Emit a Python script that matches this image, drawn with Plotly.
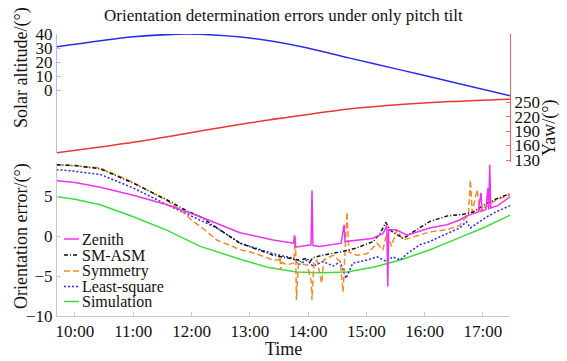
import pandas as pd
import plotly.graph_objects as go

# ---------------- data ----------------
DAY = "2000-01-01 "

# Top panel: solar altitude (left axis) and yaw (right axis)
sun_time = ["09:41", "10:26", "11:00", "11:45", "12:09", "13:00", "13:52",
            "14:43", "15:35", "16:26", "17:28"]
sun_alt = [31.0, 35.4, 38.2, 40.1, 40.0, 37.3, 31.3, 23.0, 14.6, 6.3, -3.9]

yaw_time = ["09:41", "10:26", "11:17", "12:09", "13:00", "13:52", "14:53",
            "15:35", "16:26", "17:28"]
yaw = [145, 157, 172, 190, 207, 222, 238, 245, 251, 256]

# Bottom panel: orientation errors of each method
zen_time = ["09:41", "10:00", "10:26", "11:00", "11:35", "12:09", "12:50", "13:24",
            "13:45", "13:46", "13:47", "14:03", "14:04", "14:05", "14:12", "14:34",
            "14:37", "14:38", "15:06", "15:17", "15:20", "15:21", "15:22", "15:23",
            "15:31", "15:42", "16:05", "16:23", "16:36", "16:43", "16:50", "16:55",
            "16:58", "16:59", "17:03", "17:05", "17:06", "17:07", "17:08", "17:15",
            "17:28"]
zenith = [6.9, 6.7, 6.1, 5.1, 3.9, 2.4, 0.4, -0.5,
          -0.9, 0.1, -1.4, -1.1, 5.7, -1.2, -1.3, -0.9,
          1.4, -0.7, -0.3, 0.3, 1.0, 1.4, -6.3, 0.8,
          0.75, 0.1, 1.0, 1.4, 2.0, 2.5, 2.8, 3.0,
          5.4, 3.1, 3.3, 6.0, 3.3, 8.9, 3.5, 3.8,
          4.9]

sm_time = ["09:41", "10:00", "10:26", "11:00", "11:35", "11:51", "12:09", "12:26",
           "12:43", "12:50", "13:24", "13:41", "13:50", "13:52", "13:55", "13:59",
           "14:02", "14:05", "14:15", "14:33", "14:50", "15:07", "15:14", "15:20",
           "15:24", "15:27", "15:38", "15:48", "16:05", "16:23", "16:39", "16:50",
           "17:04", "17:15", "17:28"]
sm_asm = [8.9, 8.8, 8.4, 6.6, 4.5, 3.4, 2.4, 1.0,
          -0.3, -0.9, -2.4, -2.8, -3.0, -3.3, -2.9, -2.8,
          -3.2, -2.7, -2.4, -2.0, -1.5, -0.7, 0.3, 1.7,
          0.8, 0.5, -0.3, 0.5, 1.8, 2.5, 2.7, 3.0,
          4.1, 4.7, 5.3]

sym_time = ["09:41", "10:00", "10:26", "11:00", "11:35", "11:51", "12:00", "12:09",
            "12:26", "12:50", "13:06", "13:24", "13:30", "13:31", "13:32", "13:33",
            "13:38", "13:45", "13:47", "13:48", "13:50", "13:59", "14:03", "14:04",
            "14:06", "14:09", "14:14", "14:16", "14:26", "14:33", "14:36", "14:40",
            "14:42", "14:50", "15:01", "15:11", "15:17", "15:21", "15:26", "15:31",
            "15:38", "15:48", "16:05", "16:23", "16:36", "16:40", "16:45", "16:47",
            "16:49", "16:54", "16:57", "17:00", "17:04", "17:10", "17:15", "17:28"]
symmetry = [8.9, 8.8, 8.5, 6.7, 4.4, 3.0, 2.0, 1.2,
            -0.5, -1.7, -2.2, -3.0, -3.0, -2.6, -4.25, -3.3,
            -3.6, -3.4, -0.1, -8.0, -3.5, -3.6, -5.5, -8.0,
            -3.2, -3.0, -5.9, -3.0, -2.4, -3.2, -7.0, 3.0,
            -2.0, -2.4, -2.2, -0.9, -1.75, 0.4, -1.3, 0.75,
            -0.5, -0.1, 0.5, 0.8, 1.3, 2.0, 2.5, 7.0,
            3.0, 5.8, 3.0, 3.5, 3.7, 4.2, 4.6, 5.1]

ls_time = ["09:41", "10:00", "10:26", "11:00", "11:35", "12:09", "12:26", "12:50",
           "13:24", "13:45", "13:50", "13:59", "14:05", "14:15", "14:26", "14:33",
           "14:39", "14:46", "15:01", "15:11", "15:21", "15:27", "15:35", "15:42",
           "15:55", "16:05", "16:13", "16:23", "16:36", "16:43", "16:47", "16:54",
           "17:04", "17:15", "17:28"]
least_square = [8.3, 8.1, 7.7, 6.0, 3.9, 2.0, 1.0, -0.9,
                -2.2, -2.8, -3.6, -3.0, -3.8, -3.2, -3.75, -3.2,
                -5.3, -3.4, -3.0, -2.6, -3.2, -2.6, -3.0, -2.2,
                -1.1, -0.7, -0.3, 0.3, 1.0, 1.8, 1.0, 1.6,
                2.4, 3.1, 3.8]

sim_time = ["09:41", "10:00", "10:26", "11:00", "11:35", "12:09", "12:50", "13:18",
            "13:48", "14:15", "14:40", "15:07", "15:35", "16:05", "16:36", "17:00",
            "17:28"]
simulation = [4.9, 4.6, 3.9, 2.4, 0.7, -1.3, -2.9, -3.9,
              -4.5, -4.6, -4.5, -3.9, -3.0, -1.75, -0.2, 1.0,
              2.6]

hour_ticks = ["10:00", "11:00", "12:00", "13:00", "14:00", "15:00", "16:00", "17:00"]
err_ticks = [-10, -5, 0, 5]
alt_ticks = [0, 10, 20, 30, 40]
yaw_ticks = [130, 160, 190, 220, 250]


def t(vals):
    return pd.to_datetime([DAY + v for v in vals])


# ---------------- layout geometry (pixels) ----------------
W, H = 567, 361
L, R, T, B = 57, 57, 34, 45
PW, PH = W - L - R, H - T - B


def px(x):
    return (x - L) / PW


def py(y):
    return (H - B - y) / PH


FONT = "Liberation Serif"
INK = "#111111"
GREY = "#c8c8c8"

fig = go.Figure()

fig.add_trace(go.Scatter(x=t(sun_time), y=sun_alt, xaxis="x2", yaxis="y2",
                         mode="lines", line=dict(color="#2b2bea", width=1.5, shape="spline"),
                         showlegend=False))
fig.add_trace(go.Scatter(x=t(yaw_time), y=yaw, xaxis="x2", yaxis="y3",
                         mode="lines", line=dict(color="#ee3535", width=1.5, shape="spline"),
                         showlegend=False))

series = [
    ("Zenith", zen_time, zenith, "#ee33ee", "solid"),
    ("SM-ASM", sm_time, sm_asm, "#111111", "4px,2px,1px,2px"),
    ("Symmetry", sym_time, symmetry, "#f28a2e", "6px,3px"),
    ("Least-square", ls_time, least_square, "#2a2ae0", "2px,2px"),
    ("Simulation", sim_time, simulation, "#3ddc3d", "solid"),
]
draw_order = [4, 3, 2, 1, 0]
for i in draw_order:
    name, tt, vv, col, dash = series[i]
    fig.add_trace(go.Scatter(x=t(tt), y=vv, xaxis="x", yaxis="y", mode="lines", name=name,
                             line=dict(color=col, width=1.5, dash=dash),
                             showlegend=False))

# compact legend drawn inside the lower panel
leg_y = [239, 255, 271, 286.5, 301.5]
shapes = []
annotations = []
for (name, _, _, col, dash), yy in zip(series, leg_y):
    shapes.append(dict(type="line", xref="paper", yref="paper",
                       x0=px(64), x1=px(79), y0=py(yy), y1=py(yy),
                       line=dict(color=col, width=1.5, dash=dash)))
    annotations.append(dict(text=name, xref="paper", yref="paper", x=px(80), y=py(yy),
                            xanchor="left", yanchor="middle", showarrow=False,
                            font=dict(family=FONT, size=16, color=INK)))

# axis titles
annotations += [
    dict(text="Solar altitude/(°)", xref="paper", yref="paper", x=px(22), y=py(68),
         textangle=-90, showarrow=False, xanchor="center", yanchor="middle",
         font=dict(family=FONT, size=18, color=INK)),
    dict(text="Orientation error/(°)", xref="paper", yref="paper", x=px(21), y=py(236),
         textangle=-90, showarrow=False, xanchor="center", yanchor="middle",
         font=dict(family=FONT, size=18, color=INK)),
    dict(text="Yaw/(°)", xref="paper", yref="paper", x=px(549), y=py(128),
         textangle=-90, showarrow=False, xanchor="center", yanchor="middle",
         font=dict(family=FONT, size=18, color=INK)),
    dict(text="Time", xref="paper", yref="paper", x=px(283), y=py(349),
         showarrow=False, xanchor="center", yanchor="middle",
         font=dict(family=FONT, size=18, color=INK)),
    dict(text="Orientation determination errors under only pitch tilt",
         xref="paper", yref="paper", x=px(283), y=py(15),
         showarrow=False, xanchor="center", yanchor="middle",
         font=dict(family=FONT, size=17, color=INK)),
]

x_range = [DAY + "09:41:30", DAY + "17:27:50"]
tick_font = dict(family=FONT, size=17, color=INK)

fig.update_layout(
    width=W, height=H, autosize=False,
    margin=dict(l=L, r=R, t=T, b=B),
    paper_bgcolor="white", plot_bgcolor="rgba(0,0,0,0)",
    font=dict(family=FONT, color=INK),
    shapes=shapes, annotations=annotations, showlegend=False,
    xaxis=dict(domain=[0, 1], anchor="y", range=x_range,
               tickvals=t(hour_ticks), ticktext=hour_ticks, tickfont=tick_font,
               ticks="inside", ticklen=4, tickcolor=GREY, showline=True, linecolor=GREY,
               linewidth=1, showgrid=False, zeroline=False),
    yaxis=dict(domain=[0, py(163)], anchor="x", range=[-10, 9.125],
               tickvals=err_ticks, tickfont=tick_font, ticks="inside", ticklen=4,
               tickcolor=GREY, showline=True, linecolor=GREY, showgrid=False,
               zeroline=False),
    xaxis2=dict(domain=[0, 1], anchor="y2", range=x_range, visible=False),
    yaxis2=dict(domain=[py(153), 1], anchor="x2", range=[-44.7, 40.2],
                tickvals=alt_ticks, tickfont=tick_font, ticks="inside", ticklen=4,
                tickcolor="#b4bcf6", showline=True, linecolor="#b4bcf6",
                showgrid=False, zeroline=False),
    yaxis3=dict(domain=[py(161.7), 1], anchor="x2", side="right", range=[126.5, 391],
                tickvals=yaw_ticks, tickfont=tick_font, ticks="inside", ticklen=4,
                tickcolor="#f07070", showline=True, linecolor="#f06060",
                showgrid=False, zeroline=False),
)

fig.write_html("out.html")
